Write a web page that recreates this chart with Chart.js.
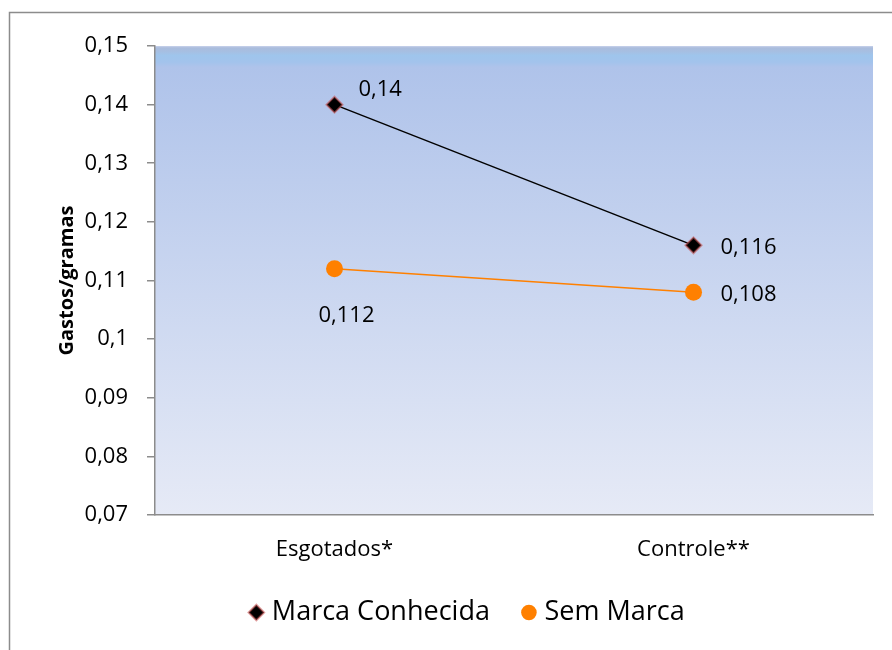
<!DOCTYPE html>
<html>
<head>
<meta charset="utf-8">
<script src="https://cdn.jsdelivr.net/npm/chart.js@4/dist/chart.umd.min.js"></script>
<style>
  html, body { margin: 0; padding: 0; background: #fff; }
  #wrap { width: 892px; height: 650px; position: relative; }
</style>
</head>
<body>
<div id="wrap"><canvas id="c" width="892" height="650"></canvas></div>
<script>
// Categories and series
const categories = ['Esgotados*', 'Controle**'];
const marcaConhecida = [0.14, 0.116];
const semMarca = [0.112, 0.108];
const yTicks = { min: 0.07, max: 0.15, step: 0.01 };
const seriesNames = ['Marca Conhecida', 'Sem Marca'];

const FONT = "'Open Sans', Lato, sans-serif";
const DIAMOND_GLOW = 'rgba(200,80,80,0.55)';

function fmt(v) {
  return String(Number(v.toFixed(3))).replace('.', ',');
}

// Outer frame and gradient plot background
const framePlugin = {
  id: 'frame',
  beforeDraw(chart) {
    const { ctx, chartArea: a } = chart;
    ctx.save();
    ctx.fillStyle = '#ffffff';
    ctx.fillRect(0, 0, chart.width, chart.height);
    ctx.strokeStyle = '#8c8c8c';
    ctx.lineWidth = 1.5;
    ctx.strokeRect(9.5, 12.5, chart.width + 20, chart.height + 20);
    const g = ctx.createLinearGradient(0, a.top, 0, a.bottom);
    g.addColorStop(0, '#c8d2ec');
    g.addColorStop(0.004, '#aabcdc');
    g.addColorStop(0.012, '#a6bfe2');
    g.addColorStop(0.02, '#9fc5ec');
    g.addColorStop(0.035, '#a3c3ec');
    g.addColorStop(0.045, '#afc3ea');
    g.addColorStop(1, '#e6eaf6');
    ctx.fillStyle = g;
    ctx.fillRect(a.left, a.top, a.right - a.left, a.bottom - a.top);
    ctx.restore();
  }
};

// Value labels beside each point
const labelPlugin = {
  id: 'valueLabels',
  afterDatasetsDraw(chart) {
    const { ctx } = chart;
    const placement = [
      [{ dx: 24, dy: -15 }, { dx: 27, dy: 2 }],
      [{ dx: 12, dy: 47, center: true }, { dx: 27, dy: 3 }]
    ];
    ctx.save();
    ctx.font = '22px ' + FONT;
    ctx.fillStyle = '#000';
    ctx.textBaseline = 'middle';
    chart.data.datasets.forEach((ds, di) => {
      chart.getDatasetMeta(di).data.forEach((pt, i) => {
        const p = placement[di][i];
        ctx.textAlign = p.center ? 'center' : 'left';
        ctx.fillText(fmt(ds.data[i]), pt.x + p.dx, pt.y + p.dy);
      });
    });
    ctx.restore();
  }
};

new Chart(document.getElementById('c'), {
  type: 'line',
  data: {
    labels: categories,
    datasets: [
      {
        label: seriesNames[0],
        data: marcaConhecida,
        borderColor: '#000000',
        borderWidth: 1.5,
        backgroundColor: '#000000',
        pointStyle: 'rectRot',
        pointRadius: 8,
        pointBorderColor: DIAMOND_GLOW,
        pointBorderWidth: 2,
        pointBackgroundColor: '#000000'
      },
      {
        label: seriesNames[1],
        data: semMarca,
        borderColor: '#ff8000',
        borderWidth: 1.5,
        backgroundColor: '#ff8000',
        pointStyle: 'circle',
        pointRadius: 8.5,
        pointBorderColor: '#ff8000',
        pointBorderWidth: 0,
        pointBackgroundColor: '#ff8000'
      }
    ]
  },
  options: {
    responsive: false,
    animation: false,
    devicePixelRatio: 1,
    layout: { padding: { top: 46, right: 19, bottom: 14, left: 66 } },
    plugins: {
      legend: {
        position: 'bottom',
        labels: {
          usePointStyle: true,
          boxWidth: 4,
          boxHeight: 11,
          padding: 37,
          color: '#000',
          font: { family: FONT, size: 27 },
          generateLabels(chart) {
            const items = Chart.defaults.plugins.legend.labels.generateLabels(chart);
            items[0].strokeStyle = DIAMOND_GLOW;
            items[0].lineWidth = 2;
            items[1].lineWidth = 0;
            return items;
          }
        }
      },
      tooltip: { enabled: false }
    },
    scales: {
      x: {
        offset: true,
        grid: { display: false, drawTicks: false },
        border: { display: true, color: '#8c8c8c', width: 1.5 },
        ticks: { color: '#000', font: { family: FONT, size: 22, lineHeight: 1 }, padding: 24 },
        afterFit(s) { s.height = 47; }
      },
      y: {
        min: yTicks.min,
        max: yTicks.max,
        ticks: {
          stepSize: yTicks.step,
          color: '#000',
          padding: 19,
          font: { family: FONT, size: 22 },
          callback: (v) => fmt(v)
        },
        grid: { drawOnChartArea: false, tickLength: 8, color: '#8c8c8c', lineWidth: 1.5 },
        border: { display: true, color: '#8c8c8c', width: 1.5 },
        title: {
          display: true,
          text: 'Gastos/gramas',
          color: '#000',
          font: { family: FONT, size: 20, weight: 'bold' },
          padding: { top: -11, bottom: 0 }
        },
        afterFit(s) { s.width = 89; }
      }
    }
  },
  plugins: [framePlugin, labelPlugin]
});
</script>
</body>
</html>
